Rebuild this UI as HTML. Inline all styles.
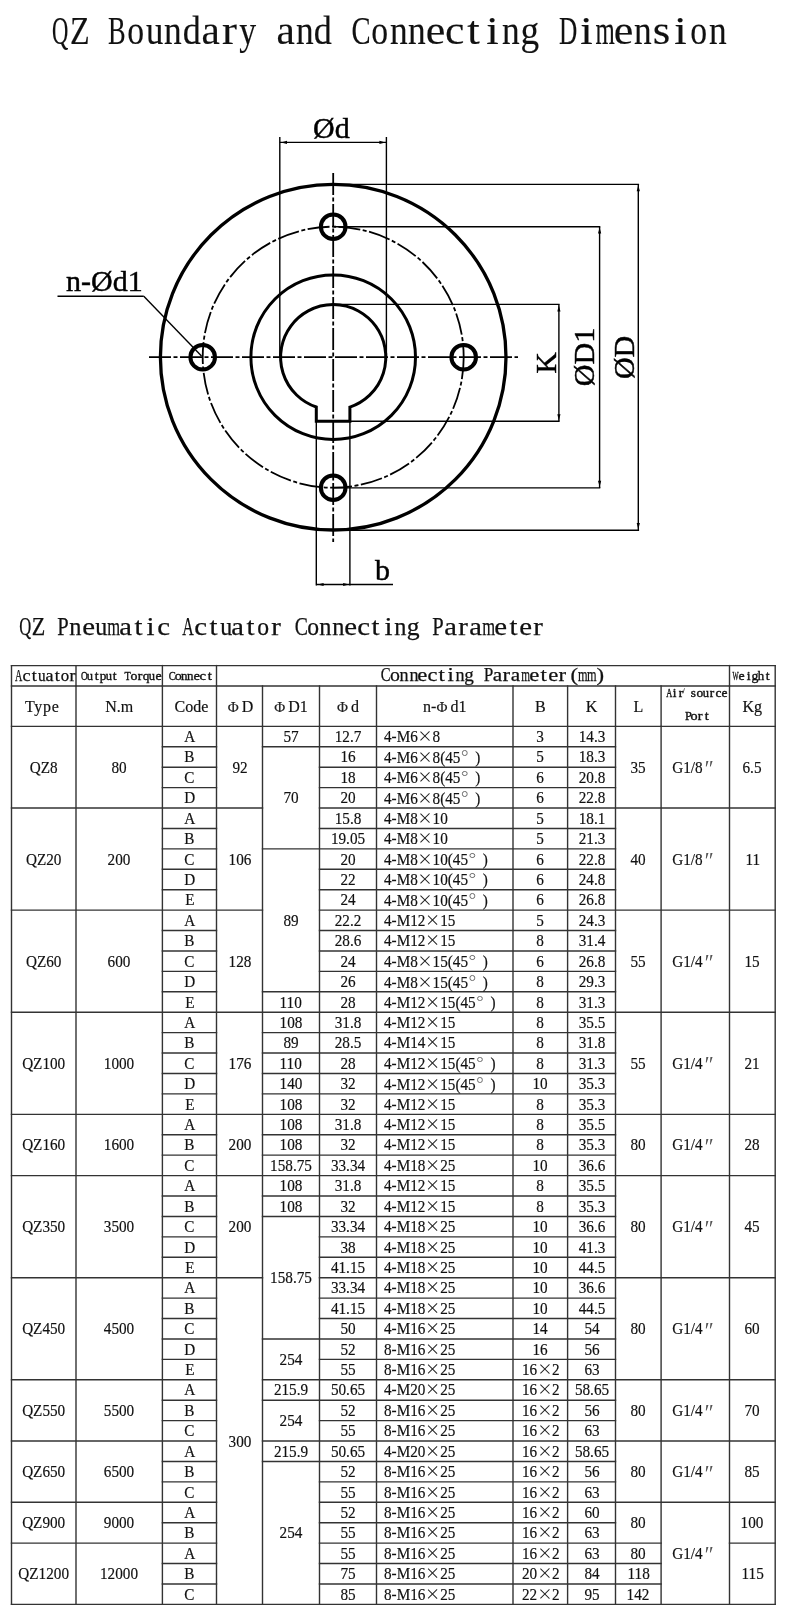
<!DOCTYPE html>
<html><head><meta charset="utf-8"><title>QZ Boundary and Connecting Dimension</title>
<style>
*{margin:0;padding:0;box-sizing:border-box}
html,body{width:800px;height:1607px;background:#fff;overflow:hidden}
body{position:relative;font-family:"Liberation Serif",serif;color:#000}
#pg{position:absolute;left:0;top:0;width:800px;height:1607px;will-change:transform}
.mc{position:absolute;line-height:1;white-space:pre;font-family:"Liberation Serif",serif;color:#111}
.b0{-webkit-text-stroke:.15px #111}
.b1{-webkit-text-stroke:.25px #111}
.b2{-webkit-text-stroke:.35px #111}
svg{position:absolute;left:0;top:0}
.c{position:absolute;display:flex;align-items:center;justify-content:center;font-size:16px;line-height:1;white-space:nowrap;color:#111;-webkit-text-stroke:.18px #111}
.c>span.s{display:inline-block;transform:scaleX(.95);position:relative;top:.5px}
.c.l{justify-content:flex-start;padding-left:7.5px}
.c.l>span.s{transform-origin:0 50%}
.x{display:inline-block;width:15.6px;height:9px;position:relative;vertical-align:1.5px}
.x::before,.x::after{content:"";position:absolute;left:50%;top:50%;width:12.6px;height:1px;background:#222;transform:translate(-50%,-50%) rotate(43deg)}
.x::after{transform:translate(-50%,-50%) rotate(-43deg)}
.dg{display:inline-block;width:15.6px;height:14px;position:relative;vertical-align:0}
.dg::before{content:"";position:absolute;left:1.6px;top:1.5px;width:3.5px;height:3.5px;border:.85px solid #666;border-radius:50%}
.in{display:inline-block;width:16px;height:0;line-height:0;font-size:23px;position:relative;top:3.6px;text-align:left;padding-left:.8px;font-style:italic;color:#555;-webkit-text-stroke:0}
.h{font-size:16px;padding-top:2.4px}
.phi{font-size:15px;margin-right:3px;color:#222}
</style></head><body><div id="pg">
<span class="mc b0" style="left:46.05px;top:11.09px;font-size:39.00px;transform-origin:14.55px 32.66px;transform:scale(0.580,1.000)">Q</span><span class="mc b0" style="left:67.59px;top:11.09px;font-size:39.00px;transform-origin:11.78px 32.66px;transform:scale(0.824,1.000)">Z</span><span class="mc b0" style="left:104.29px;top:11.09px;font-size:39.00px;transform-origin:12.62px 32.66px;transform:scale(0.678,1.000)">B</span><span class="mc b0" style="left:125.93px;top:11.09px;font-size:39.00px;transform-origin:9.75px 32.66px;transform:scale(0.863,1.000)">o</span><span class="mc b0" style="left:144.78px;top:11.09px;font-size:39.00px;transform-origin:9.67px 32.66px;transform:scale(0.891,1.000)">u</span><span class="mc b0" style="left:163.32px;top:11.09px;font-size:39.00px;transform-origin:9.90px 32.66px;transform:scale(0.906,1.000)">n</span><span class="mc b0" style="left:181.77px;top:11.09px;font-size:39.00px;transform-origin:10.22px 32.66px;transform:scale(0.927,1.000)">d</span><span class="mc b0" style="left:201.69px;top:11.09px;font-size:39.00px;transform-origin:9.07px 32.66px;transform:scale(1.060,1.000)">a</span><span class="mc b0" style="left:222.82px;top:11.09px;font-size:39.00px;transform-origin:6.71px 32.66px;transform:scale(1.150,1.000)">r</span><span class="mc b0" style="left:238.39px;top:11.09px;font-size:39.00px;transform-origin:9.91px 32.66px;transform:scale(0.865,1.000)">y</span><span class="mc b0" style="left:276.77px;top:11.09px;font-size:39.00px;transform-origin:9.07px 32.66px;transform:scale(1.060,1.000)">a</span><span class="mc b0" style="left:294.71px;top:11.09px;font-size:39.00px;transform-origin:9.90px 32.66px;transform:scale(0.906,1.000)">n</span><span class="mc b0" style="left:313.16px;top:11.09px;font-size:39.00px;transform-origin:10.22px 32.66px;transform:scale(0.927,1.000)">d</span><span class="mc b0" style="left:348.19px;top:11.09px;font-size:39.00px;transform-origin:12.73px 32.66px;transform:scale(0.734,1.000)">C</span><span class="mc b0" style="left:369.94px;top:11.09px;font-size:39.00px;transform-origin:9.75px 32.66px;transform:scale(0.863,1.000)">o</span><span class="mc b0" style="left:388.56px;top:11.09px;font-size:39.00px;transform-origin:9.90px 32.66px;transform:scale(0.906,1.000)">n</span><span class="mc b0" style="left:407.33px;top:11.09px;font-size:39.00px;transform-origin:9.90px 32.66px;transform:scale(0.906,1.000)">n</span><span class="mc b0" style="left:427.26px;top:11.09px;font-size:39.00px;transform-origin:8.74px 32.66px;transform:scale(1.131,1.000)">e</span><span class="mc b0" style="left:445.97px;top:11.09px;font-size:39.00px;transform-origin:8.80px 32.66px;transform:scale(1.117,1.000)">c</span><span class="mc b0" style="left:468.05px;top:11.09px;font-size:39.00px;transform-origin:5.49px 32.66px;transform:scale(1.150,1.000)">t</span><span class="mc b0" style="left:486.85px;top:11.09px;font-size:39.00px;transform-origin:5.46px 32.66px;transform:scale(1.150,1.000)">i</span><span class="mc b0" style="left:501.18px;top:11.09px;font-size:39.00px;transform-origin:9.90px 32.66px;transform:scale(0.906,1.000)">n</span><span class="mc b0" style="left:519.63px;top:11.09px;font-size:39.00px;transform-origin:10.22px 32.66px;transform:scale(0.956,1.000)">g</span><span class="mc b0" style="left:553.53px;top:11.09px;font-size:39.00px;transform-origin:13.86px 32.66px;transform:scale(0.648,1.000)">D</span><span class="mc b0" style="left:580.70px;top:11.09px;font-size:39.00px;transform-origin:5.46px 32.66px;transform:scale(1.150,1.000)">i</span><span class="mc b0" style="left:589.66px;top:11.09px;font-size:39.00px;transform-origin:15.27px 32.66px;transform:scale(0.636,1.000)">m</span><span class="mc b0" style="left:614.96px;top:11.09px;font-size:39.00px;transform-origin:8.74px 32.66px;transform:scale(1.131,1.000)">e</span><span class="mc b0" style="left:632.57px;top:11.09px;font-size:39.00px;transform-origin:9.90px 32.66px;transform:scale(0.906,1.000)">n</span><span class="mc b0" style="left:653.56px;top:11.09px;font-size:39.00px;transform-origin:7.68px 32.66px;transform:scale(1.150,1.000)">s</span><span class="mc b0" style="left:674.55px;top:11.09px;font-size:39.00px;transform-origin:5.46px 32.66px;transform:scale(1.150,1.000)">i</span><span class="mc b0" style="left:689.03px;top:11.09px;font-size:39.00px;transform-origin:9.75px 32.66px;transform:scale(0.863,1.000)">o</span><span class="mc b0" style="left:707.65px;top:11.09px;font-size:39.00px;transform-origin:9.90px 32.66px;transform:scale(0.906,1.000)">n</span>
<svg width="800" height="600" viewBox="0 0 800 600"><g stroke="#000" stroke-width="1.8" fill="none" stroke-dasharray="22 2.5 4 2.5"><line x1="149" y1="357.2" x2="518" y2="357.2"/><line x1="333.2" y1="173" x2="333.2" y2="542"/><circle cx="333.2" cy="357.2" r="130.5"/></g><g stroke="#000" fill="none"><circle cx="333.2" cy="357.2" r="172.8" stroke-width="3.3"/><circle cx="333.2" cy="357.2" r="82.3" stroke-width="3"/><path stroke-width="3" stroke-linejoin="miter" d="M316.3 421.2 L316.3 407.01 A52.6 52.6 0 1 1 349.9 407.08 L349.9 421.2 Z"/><circle cx="202.7" cy="357.2" r="12.3" stroke-width="4"/><circle cx="463.7" cy="357.2" r="12.3" stroke-width="4"/><circle cx="333.2" cy="226.7" r="12.3" stroke-width="4"/><circle cx="333.2" cy="487.7" r="12.3" stroke-width="4"/></g><g stroke="#000" stroke-width="1.4" fill="none"><line x1="279.8" y1="137" x2="279.8" y2="357.2"/><line x1="386.4" y1="137" x2="386.4" y2="357.2"/><line x1="279.8" y1="142.4" x2="386.4" y2="142.4"/><line x1="333.2" y1="184.4" x2="639.1" y2="184.4"/><line x1="349" y1="530.2" x2="639.1" y2="530.2"/><line x1="638.3" y1="184.4" x2="638.3" y2="530.2"/><line x1="333.2" y1="226.8" x2="600.3" y2="226.8"/><line x1="333.2" y1="487.9" x2="600.3" y2="487.9"/><line x1="599.6" y1="226.8" x2="599.6" y2="487.9"/><line x1="333.2" y1="304.4" x2="559.6" y2="304.4"/><line x1="349.9" y1="421.2" x2="559.6" y2="421.2"/><line x1="558.9" y1="304.4" x2="558.9" y2="421.2"/><line x1="316.3" y1="421.2" x2="316.3" y2="585.5"/><line x1="349.9" y1="421.2" x2="349.9" y2="585.5"/><line x1="316.3" y1="584.5" x2="393" y2="584.5"/><line x1="57.5" y1="296.3" x2="143.8" y2="296.3"/><line x1="143.8" y1="296.3" x2="201.5" y2="356"/></g><g fill="#000"><polygon points="281,142.4 287,140.8 287,144"/><polygon points="385.4,142.4 379.4,140.8 379.4,144"/><polygon points="638.3,185.3 636.7,191.3 639.9,191.3"/><polygon points="638.3,529.1 636.7,523.1 639.9,523.1"/><polygon points="599.6,227.6 598,233.6 601.2,233.6"/><polygon points="599.6,486.8 598,480.8 601.2,480.8"/><polygon points="558.9,305.5 557.3,311.5 560.5,311.5"/><polygon points="558.9,420.3 557.3,414.3 560.5,414.3"/><polygon points="317.6,584.5 323.6,582.9 323.6,586.1"/><polygon points="349.1,584.5 343.1,582.9 343.1,586.1"/></g><g font-family="Liberation Serif" font-size="30" fill="#000" stroke="#000" stroke-width="0.45"><text x="313" y="138.4">Ød</text><text x="66" y="290.5">n-Ød1</text><text x="375" y="579.5">b</text><text transform="translate(555.6 363) rotate(-90)" text-anchor="middle">K</text><text transform="translate(594.2 357) rotate(-90)" text-anchor="middle">ØD1</text><text transform="translate(633.8 357.4) rotate(-90)" text-anchor="middle">ØD</text></g></svg>
<span class="mc b1" style="left:16.47px;top:614.06px;font-size:25.00px;transform-origin:9.33px 20.94px;transform:scale(0.663,1.000)">Q</span><span class="mc b1" style="left:30.75px;top:614.06px;font-size:25.00px;transform-origin:7.55px 20.94px;transform:scale(0.885,1.000)">Z</span><span class="mc b1" style="left:56.49px;top:614.06px;font-size:25.00px;transform-origin:6.81px 20.94px;transform:scale(0.821,1.000)">P</span><span class="mc b1" style="left:69.45px;top:614.06px;font-size:25.00px;transform-origin:6.35px 20.94px;transform:scale(0.974,1.000)">n</span><span class="mc b1" style="left:82.70px;top:614.06px;font-size:25.00px;transform-origin:5.60px 20.94px;transform:scale(1.150,1.000)">e</span><span class="mc b1" style="left:94.60px;top:614.06px;font-size:25.00px;transform-origin:6.20px 20.94px;transform:scale(0.958,1.000)">u</span><span class="mc b1" style="left:103.51px;top:614.06px;font-size:25.00px;transform-origin:9.79px 20.94px;transform:scale(0.661,1.000)">m</span><span class="mc b1" style="left:119.98px;top:614.06px;font-size:25.00px;transform-origin:5.82px 20.94px;transform:scale(1.139,1.000)">a</span><span class="mc b1" style="left:134.78px;top:614.06px;font-size:25.00px;transform-origin:3.52px 20.94px;transform:scale(1.150,1.000)">t</span><span class="mc b1" style="left:147.30px;top:614.06px;font-size:25.00px;transform-origin:3.50px 20.94px;transform:scale(1.150,1.000)">i</span><span class="mc b1" style="left:157.66px;top:614.06px;font-size:25.00px;transform-origin:5.64px 20.94px;transform:scale(1.150,1.000)">c</span><span class="mc b1" style="left:179.24px;top:614.06px;font-size:25.00px;transform-origin:9.06px 20.94px;transform:scale(0.638,1.000)">A</span><span class="mc b1" style="left:195.16px;top:614.06px;font-size:25.00px;transform-origin:5.64px 20.94px;transform:scale(1.150,1.000)">c</span><span class="mc b1" style="left:209.78px;top:614.06px;font-size:25.00px;transform-origin:3.52px 20.94px;transform:scale(1.150,1.000)">t</span><span class="mc b1" style="left:219.60px;top:614.06px;font-size:25.00px;transform-origin:6.20px 20.94px;transform:scale(0.958,1.000)">u</span><span class="mc b1" style="left:232.48px;top:614.06px;font-size:25.00px;transform-origin:5.82px 20.94px;transform:scale(1.139,1.000)">a</span><span class="mc b1" style="left:247.28px;top:614.06px;font-size:25.00px;transform-origin:3.52px 20.94px;transform:scale(1.150,1.000)">t</span><span class="mc b1" style="left:257.05px;top:614.06px;font-size:25.00px;transform-origin:6.25px 20.94px;transform:scale(0.944,1.000)">o</span><span class="mc b1" style="left:271.50px;top:614.06px;font-size:25.00px;transform-origin:4.30px 20.94px;transform:scale(1.150,1.000)">r</span><span class="mc b1" style="left:292.64px;top:614.06px;font-size:25.00px;transform-origin:8.16px 20.94px;transform:scale(0.788,1.000)">C</span><span class="mc b1" style="left:307.05px;top:614.06px;font-size:25.00px;transform-origin:6.25px 20.94px;transform:scale(0.944,1.000)">o</span><span class="mc b1" style="left:319.45px;top:614.06px;font-size:25.00px;transform-origin:6.35px 20.94px;transform:scale(0.974,1.000)">n</span><span class="mc b1" style="left:331.95px;top:614.06px;font-size:25.00px;transform-origin:6.35px 20.94px;transform:scale(0.974,1.000)">n</span><span class="mc b1" style="left:345.20px;top:614.06px;font-size:25.00px;transform-origin:5.60px 20.94px;transform:scale(1.150,1.000)">e</span><span class="mc b1" style="left:357.66px;top:614.06px;font-size:25.00px;transform-origin:5.64px 20.94px;transform:scale(1.150,1.000)">c</span><span class="mc b1" style="left:372.28px;top:614.06px;font-size:25.00px;transform-origin:3.52px 20.94px;transform:scale(1.150,1.000)">t</span><span class="mc b1" style="left:384.80px;top:614.06px;font-size:25.00px;transform-origin:3.50px 20.94px;transform:scale(1.150,1.000)">i</span><span class="mc b1" style="left:394.45px;top:614.06px;font-size:25.00px;transform-origin:6.35px 20.94px;transform:scale(0.974,1.000)">n</span><span class="mc b1" style="left:406.75px;top:614.06px;font-size:25.00px;transform-origin:6.55px 20.94px;transform:scale(1.027,1.000)">g</span><span class="mc b1" style="left:431.49px;top:614.06px;font-size:25.00px;transform-origin:6.81px 20.94px;transform:scale(0.821,1.000)">P</span><span class="mc b1" style="left:444.98px;top:614.06px;font-size:25.00px;transform-origin:5.82px 20.94px;transform:scale(1.139,1.000)">a</span><span class="mc b1" style="left:459.00px;top:614.06px;font-size:25.00px;transform-origin:4.30px 20.94px;transform:scale(1.150,1.000)">r</span><span class="mc b1" style="left:469.98px;top:614.06px;font-size:25.00px;transform-origin:5.82px 20.94px;transform:scale(1.139,1.000)">a</span><span class="mc b1" style="left:478.51px;top:614.06px;font-size:25.00px;transform-origin:9.79px 20.94px;transform:scale(0.661,1.000)">m</span><span class="mc b1" style="left:495.20px;top:614.06px;font-size:25.00px;transform-origin:5.60px 20.94px;transform:scale(1.150,1.000)">e</span><span class="mc b1" style="left:509.78px;top:614.06px;font-size:25.00px;transform-origin:3.52px 20.94px;transform:scale(1.150,1.000)">t</span><span class="mc b1" style="left:520.20px;top:614.06px;font-size:25.00px;transform-origin:5.60px 20.94px;transform:scale(1.150,1.000)">e</span><span class="mc b1" style="left:534.00px;top:614.06px;font-size:25.00px;transform-origin:4.30px 20.94px;transform:scale(1.150,1.000)">r</span>
<svg width="800" height="1607" viewBox="0 0 800 1607"><g stroke="#333333" stroke-width="1.4" stroke-linecap="butt"><line x1="10.8" y1="665.6" x2="775.9" y2="665.6"/><line x1="10.8" y1="686" x2="775.9" y2="686"/><line x1="10.8" y1="726.35" x2="775.9" y2="726.35"/><line x1="10.8" y1="1604.41" x2="775.9" y2="1604.41"/><line x1="11.5" y1="664.9" x2="11.5" y2="1605.11"/><line x1="775.2" y1="664.9" x2="775.2" y2="1605.11"/><line x1="76" y1="664.9" x2="76" y2="686.7"/><line x1="162.4" y1="664.9" x2="162.4" y2="686.7"/><line x1="216.5" y1="664.9" x2="216.5" y2="686.7"/><line x1="729.5" y1="664.9" x2="729.5" y2="686.7"/><line x1="76" y1="685.3" x2="76" y2="727.05"/><line x1="162.4" y1="685.3" x2="162.4" y2="727.05"/><line x1="216.5" y1="685.3" x2="216.5" y2="727.05"/><line x1="262.5" y1="685.3" x2="262.5" y2="727.05"/><line x1="319.5" y1="685.3" x2="319.5" y2="727.05"/><line x1="376.5" y1="685.3" x2="376.5" y2="727.05"/><line x1="513" y1="685.3" x2="513" y2="727.05"/><line x1="567.6" y1="685.3" x2="567.6" y2="727.05"/><line x1="615.5" y1="685.3" x2="615.5" y2="727.05"/><line x1="661.1" y1="685.3" x2="661.1" y2="727.05"/><line x1="729.5" y1="685.3" x2="729.5" y2="727.05"/><line x1="161.7" y1="746.77" x2="217.2" y2="746.77"/><line x1="261.8" y1="746.77" x2="616.2" y2="746.77"/><line x1="161.7" y1="767.19" x2="217.2" y2="767.19"/><line x1="318.8" y1="767.19" x2="616.2" y2="767.19"/><line x1="161.7" y1="787.61" x2="217.2" y2="787.61"/><line x1="318.8" y1="787.61" x2="616.2" y2="787.61"/><line x1="10.8" y1="808.03" x2="263.2" y2="808.03"/><line x1="318.8" y1="808.03" x2="775.9" y2="808.03"/><line x1="161.7" y1="828.45" x2="217.2" y2="828.45"/><line x1="318.8" y1="828.45" x2="616.2" y2="828.45"/><line x1="161.7" y1="848.87" x2="217.2" y2="848.87"/><line x1="261.8" y1="848.87" x2="616.2" y2="848.87"/><line x1="161.7" y1="869.29" x2="217.2" y2="869.29"/><line x1="318.8" y1="869.29" x2="616.2" y2="869.29"/><line x1="161.7" y1="889.71" x2="217.2" y2="889.71"/><line x1="318.8" y1="889.71" x2="616.2" y2="889.71"/><line x1="10.8" y1="910.13" x2="263.2" y2="910.13"/><line x1="318.8" y1="910.13" x2="775.9" y2="910.13"/><line x1="161.7" y1="930.55" x2="217.2" y2="930.55"/><line x1="318.8" y1="930.55" x2="616.2" y2="930.55"/><line x1="161.7" y1="950.97" x2="217.2" y2="950.97"/><line x1="318.8" y1="950.97" x2="616.2" y2="950.97"/><line x1="161.7" y1="971.39" x2="217.2" y2="971.39"/><line x1="318.8" y1="971.39" x2="616.2" y2="971.39"/><line x1="161.7" y1="991.81" x2="217.2" y2="991.81"/><line x1="261.8" y1="991.81" x2="616.2" y2="991.81"/><line x1="10.8" y1="1012.23" x2="775.9" y2="1012.23"/><line x1="161.7" y1="1032.65" x2="217.2" y2="1032.65"/><line x1="261.8" y1="1032.65" x2="616.2" y2="1032.65"/><line x1="161.7" y1="1053.07" x2="217.2" y2="1053.07"/><line x1="261.8" y1="1053.07" x2="616.2" y2="1053.07"/><line x1="161.7" y1="1073.49" x2="217.2" y2="1073.49"/><line x1="261.8" y1="1073.49" x2="616.2" y2="1073.49"/><line x1="161.7" y1="1093.91" x2="217.2" y2="1093.91"/><line x1="261.8" y1="1093.91" x2="616.2" y2="1093.91"/><line x1="10.8" y1="1114.33" x2="775.9" y2="1114.33"/><line x1="161.7" y1="1134.75" x2="217.2" y2="1134.75"/><line x1="261.8" y1="1134.75" x2="616.2" y2="1134.75"/><line x1="161.7" y1="1155.17" x2="217.2" y2="1155.17"/><line x1="261.8" y1="1155.17" x2="616.2" y2="1155.17"/><line x1="10.8" y1="1175.59" x2="775.9" y2="1175.59"/><line x1="161.7" y1="1196.01" x2="217.2" y2="1196.01"/><line x1="261.8" y1="1196.01" x2="616.2" y2="1196.01"/><line x1="161.7" y1="1216.43" x2="217.2" y2="1216.43"/><line x1="261.8" y1="1216.43" x2="616.2" y2="1216.43"/><line x1="161.7" y1="1236.85" x2="217.2" y2="1236.85"/><line x1="318.8" y1="1236.85" x2="616.2" y2="1236.85"/><line x1="161.7" y1="1257.27" x2="217.2" y2="1257.27"/><line x1="318.8" y1="1257.27" x2="616.2" y2="1257.27"/><line x1="10.8" y1="1277.69" x2="263.2" y2="1277.69"/><line x1="318.8" y1="1277.69" x2="775.9" y2="1277.69"/><line x1="161.7" y1="1298.11" x2="217.2" y2="1298.11"/><line x1="318.8" y1="1298.11" x2="616.2" y2="1298.11"/><line x1="161.7" y1="1318.53" x2="217.2" y2="1318.53"/><line x1="318.8" y1="1318.53" x2="616.2" y2="1318.53"/><line x1="161.7" y1="1338.95" x2="217.2" y2="1338.95"/><line x1="261.8" y1="1338.95" x2="616.2" y2="1338.95"/><line x1="161.7" y1="1359.37" x2="217.2" y2="1359.37"/><line x1="318.8" y1="1359.37" x2="616.2" y2="1359.37"/><line x1="10.8" y1="1379.79" x2="217.2" y2="1379.79"/><line x1="261.8" y1="1379.79" x2="775.9" y2="1379.79"/><line x1="161.7" y1="1400.21" x2="217.2" y2="1400.21"/><line x1="261.8" y1="1400.21" x2="616.2" y2="1400.21"/><line x1="161.7" y1="1420.63" x2="217.2" y2="1420.63"/><line x1="318.8" y1="1420.63" x2="616.2" y2="1420.63"/><line x1="10.8" y1="1441.05" x2="217.2" y2="1441.05"/><line x1="261.8" y1="1441.05" x2="775.9" y2="1441.05"/><line x1="161.7" y1="1461.47" x2="217.2" y2="1461.47"/><line x1="261.8" y1="1461.47" x2="616.2" y2="1461.47"/><line x1="161.7" y1="1481.89" x2="217.2" y2="1481.89"/><line x1="318.8" y1="1481.89" x2="616.2" y2="1481.89"/><line x1="10.8" y1="1502.31" x2="217.2" y2="1502.31"/><line x1="318.8" y1="1502.31" x2="775.9" y2="1502.31"/><line x1="161.7" y1="1522.73" x2="217.2" y2="1522.73"/><line x1="318.8" y1="1522.73" x2="616.2" y2="1522.73"/><line x1="10.8" y1="1543.15" x2="217.2" y2="1543.15"/><line x1="318.8" y1="1543.15" x2="661.8" y2="1543.15"/><line x1="728.8" y1="1543.15" x2="775.9" y2="1543.15"/><line x1="161.7" y1="1563.57" x2="217.2" y2="1563.57"/><line x1="318.8" y1="1563.57" x2="661.8" y2="1563.57"/><line x1="161.7" y1="1583.99" x2="217.2" y2="1583.99"/><line x1="318.8" y1="1583.99" x2="661.8" y2="1583.99"/><line x1="76" y1="725.65" x2="76" y2="1605.11"/><line x1="162.4" y1="725.65" x2="162.4" y2="1605.11"/><line x1="216.5" y1="725.65" x2="216.5" y2="1605.11"/><line x1="262.5" y1="725.65" x2="262.5" y2="1605.11"/><line x1="319.5" y1="725.65" x2="319.5" y2="1605.11"/><line x1="376.5" y1="725.65" x2="376.5" y2="1605.11"/><line x1="513" y1="725.65" x2="513" y2="1605.11"/><line x1="567.6" y1="725.65" x2="567.6" y2="1605.11"/><line x1="615.5" y1="725.65" x2="615.5" y2="1605.11"/><line x1="661.1" y1="725.65" x2="661.1" y2="1605.11"/><line x1="729.5" y1="725.65" x2="729.5" y2="1605.11"/><line x1="684.6" y1="688.2" x2="682.8" y2="693.6" stroke="#666" stroke-width="0.9"/></g></svg>
<span class="mc b1" style="left:13.31px;top:667.85px;font-size:15.70px;transform-origin:5.69px 13.15px;transform:scale(0.645,1.000)">A</span><span class="mc b1" style="left:23.14px;top:667.85px;font-size:15.70px;transform-origin:3.54px 13.15px;transform:scale(1.150,1.000)">c</span><span class="mc b1" style="left:32.15px;top:667.85px;font-size:15.70px;transform-origin:2.21px 13.15px;transform:scale(1.150,1.000)">t</span><span class="mc b1" style="left:38.15px;top:667.85px;font-size:15.70px;transform-origin:3.89px 13.15px;transform:scale(0.968,1.000)">u</span><span class="mc b1" style="left:46.07px;top:667.85px;font-size:15.70px;transform-origin:3.65px 13.15px;transform:scale(1.150,1.000)">a</span><span class="mc b1" style="left:55.19px;top:667.85px;font-size:15.70px;transform-origin:2.21px 13.15px;transform:scale(1.150,1.000)">t</span><span class="mc b1" style="left:61.16px;top:667.85px;font-size:15.70px;transform-origin:3.92px 13.15px;transform:scale(1.073,1.000)">o</span><span class="mc b1" style="left:70.06px;top:667.85px;font-size:15.70px;transform-origin:2.70px 13.15px;transform:scale(1.150,1.000)">r</span><span class="mc b2" style="left:79.57px;top:669.65px;font-size:12.00px;transform-origin:4.33px 10.05px;transform:scale(0.768,1.000)">O</span><span class="mc b2" style="left:87.13px;top:669.65px;font-size:12.00px;transform-origin:2.98px 10.05px;transform:scale(1.047,1.000)">u</span><span class="mc b2" style="left:94.63px;top:669.65px;font-size:12.00px;transform-origin:1.69px 10.05px;transform:scale(1.150,1.000)">t</span><span class="mc b2" style="left:99.67px;top:669.65px;font-size:12.00px;transform-origin:2.86px 10.05px;transform:scale(1.105,1.000)">p</span><span class="mc b2" style="left:105.76px;top:669.65px;font-size:12.00px;transform-origin:2.98px 10.05px;transform:scale(1.047,1.000)">u</span><span class="mc b2" style="left:113.26px;top:669.65px;font-size:12.00px;transform-origin:1.69px 10.05px;transform:scale(1.150,1.000)">t</span><span class="mc b2" style="left:123.70px;top:669.65px;font-size:12.00px;transform-origin:3.67px 10.05px;transform:scale(0.853,1.000)">T</span><span class="mc b2" style="left:130.58px;top:669.65px;font-size:12.00px;transform-origin:3.00px 10.05px;transform:scale(1.150,1.000)">o</span><span class="mc b2" style="left:137.72px;top:669.65px;font-size:12.00px;transform-origin:2.07px 10.05px;transform:scale(1.150,1.000)">r</span><span class="mc b2" style="left:142.89px;top:669.65px;font-size:12.00px;transform-origin:3.11px 10.05px;transform:scale(1.103,1.000)">q</span><span class="mc b2" style="left:149.23px;top:669.65px;font-size:12.00px;transform-origin:2.98px 10.05px;transform:scale(1.047,1.000)">u</span><span class="mc b2" style="left:155.73px;top:669.65px;font-size:12.00px;transform-origin:2.69px 10.05px;transform:scale(1.150,1.000)">e</span><span class="mc b2" style="left:167.65px;top:669.56px;font-size:12.70px;transform-origin:4.15px 10.64px;transform:scale(0.826,1.000)">C</span><span class="mc b2" style="left:174.93px;top:669.56px;font-size:12.70px;transform-origin:3.17px 10.64px;transform:scale(1.112,1.000)">o</span><span class="mc b2" style="left:181.18px;top:669.56px;font-size:12.70px;transform-origin:3.22px 10.64px;transform:scale(1.020,1.000)">n</span><span class="mc b2" style="left:187.48px;top:669.56px;font-size:12.70px;transform-origin:3.22px 10.64px;transform:scale(1.020,1.000)">n</span><span class="mc b2" style="left:194.15px;top:669.56px;font-size:12.70px;transform-origin:2.85px 10.64px;transform:scale(1.150,1.000)">e</span><span class="mc b2" style="left:200.44px;top:669.56px;font-size:12.70px;transform-origin:2.86px 10.64px;transform:scale(1.150,1.000)">c</span><span class="mc b2" style="left:207.81px;top:669.56px;font-size:12.70px;transform-origin:1.79px 10.64px;transform:scale(1.150,1.000)">t</span><span class="mc b1" style="left:379.14px;top:665.42px;font-size:19.80px;transform-origin:6.46px 16.58px;transform:scale(0.742,1.000)">C</span><span class="mc b1" style="left:389.97px;top:665.42px;font-size:19.80px;transform-origin:4.95px 16.58px;transform:scale(1.000,1.000)">o</span><span class="mc b1" style="left:399.21px;top:665.42px;font-size:19.80px;transform-origin:5.03px 16.58px;transform:scale(0.917,1.000)">n</span><span class="mc b1" style="left:408.53px;top:665.42px;font-size:19.80px;transform-origin:5.03px 16.58px;transform:scale(0.917,1.000)">n</span><span class="mc b1" style="left:418.44px;top:665.42px;font-size:19.80px;transform-origin:4.44px 16.58px;transform:scale(1.145,1.000)">e</span><span class="mc b1" style="left:427.73px;top:665.42px;font-size:19.80px;transform-origin:4.47px 16.58px;transform:scale(1.130,1.000)">c</span><span class="mc b1" style="left:438.73px;top:665.42px;font-size:19.80px;transform-origin:2.79px 16.58px;transform:scale(1.150,1.000)">t</span><span class="mc b1" style="left:448.07px;top:665.42px;font-size:19.80px;transform-origin:2.77px 16.58px;transform:scale(1.150,1.000)">i</span><span class="mc b1" style="left:455.13px;top:665.42px;font-size:19.80px;transform-origin:5.03px 16.58px;transform:scale(0.917,1.000)">n</span><span class="mc b1" style="left:464.29px;top:665.42px;font-size:19.80px;transform-origin:5.19px 16.58px;transform:scale(0.967,1.000)">g</span><span class="mc b1" style="left:482.73px;top:665.42px;font-size:19.80px;transform-origin:5.39px 16.58px;transform:scale(0.869,1.000)">P</span><span class="mc b1" style="left:492.83px;top:665.42px;font-size:19.80px;transform-origin:4.61px 16.58px;transform:scale(1.072,1.000)">a</span><span class="mc b1" style="left:503.35px;top:665.42px;font-size:19.80px;transform-origin:3.41px 16.58px;transform:scale(1.150,1.000)">r</span><span class="mc b1" style="left:511.47px;top:665.42px;font-size:19.80px;transform-origin:4.61px 16.58px;transform:scale(1.072,1.000)">a</span><span class="mc b1" style="left:517.65px;top:665.42px;font-size:19.80px;transform-origin:7.75px 16.58px;transform:scale(0.572,1.000)">m</span><span class="mc b1" style="left:530.28px;top:665.42px;font-size:19.80px;transform-origin:4.44px 16.58px;transform:scale(1.145,1.000)">e</span><span class="mc b1" style="left:541.25px;top:665.42px;font-size:19.80px;transform-origin:2.79px 16.58px;transform:scale(1.150,1.000)">t</span><span class="mc b1" style="left:548.92px;top:665.42px;font-size:19.80px;transform-origin:4.44px 16.58px;transform:scale(1.145,1.000)">e</span><span class="mc b1" style="left:559.27px;top:665.42px;font-size:19.80px;transform-origin:3.41px 16.58px;transform:scale(1.150,1.000)">r</span><span class="mc b1" style="left:571.09px;top:665.42px;font-size:19.80px;transform-origin:3.41px 16.58px;transform:scale(1.150,1.000)">(</span><span class="mc b1" style="left:574.85px;top:665.42px;font-size:19.80px;transform-origin:7.75px 16.58px;transform:scale(0.621,1.000)">m</span><span class="mc b1" style="left:584.35px;top:665.42px;font-size:19.80px;transform-origin:7.75px 16.58px;transform:scale(0.621,1.000)">m</span><span class="mc b1" style="left:596.82px;top:665.42px;font-size:19.80px;transform-origin:3.18px 16.58px;transform:scale(1.150,1.000)">)</span><span class="mc b2" style="left:729.74px;top:669.55px;font-size:12.00px;transform-origin:5.66px 10.05px;transform:scale(0.542,1.000)">W</span><span class="mc b2" style="left:739.15px;top:669.55px;font-size:12.00px;transform-origin:2.69px 10.05px;transform:scale(1.150,1.000)">e</span><span class="mc b2" style="left:746.60px;top:669.55px;font-size:12.00px;transform-origin:1.68px 10.05px;transform:scale(1.150,1.000)">i</span><span class="mc b2" style="left:751.58px;top:669.55px;font-size:12.00px;transform-origin:3.14px 10.05px;transform:scale(1.150,1.000)">g</span><span class="mc b2" style="left:758.18px;top:669.55px;font-size:12.00px;transform-origin:2.98px 10.05px;transform:scale(1.069,1.000)">h</span><span class="mc b2" style="left:765.91px;top:669.55px;font-size:12.00px;transform-origin:1.69px 10.05px;transform:scale(1.150,1.000)">t</span><span class="mc b2" style="left:664.70px;top:688.39px;font-size:11.60px;transform-origin:4.20px 9.71px;transform:scale(0.721,1.000)">A</span><span class="mc b2" style="left:673.49px;top:688.39px;font-size:11.60px;transform-origin:1.62px 9.71px;transform:scale(1.150,1.000)">i</span><span class="mc b2" style="left:679.32px;top:688.39px;font-size:11.60px;transform-origin:2.00px 9.71px;transform:scale(1.150,1.000)">r</span><span class="mc b2" style="left:691.45px;top:688.39px;font-size:11.60px;transform-origin:2.29px 9.71px;transform:scale(1.150,1.000)">s</span><span class="mc b2" style="left:697.05px;top:688.39px;font-size:11.60px;transform-origin:2.90px 9.71px;transform:scale(1.150,1.000)">o</span><span class="mc b2" style="left:703.28px;top:688.39px;font-size:11.60px;transform-origin:2.88px 9.71px;transform:scale(1.083,1.000)">u</span><span class="mc b2" style="left:710.37px;top:688.39px;font-size:11.60px;transform-origin:2.00px 9.71px;transform:scale(1.150,1.000)">r</span><span class="mc b2" style="left:715.96px;top:688.39px;font-size:11.60px;transform-origin:2.62px 9.71px;transform:scale(1.150,1.000)">c</span><span class="mc b2" style="left:722.19px;top:688.39px;font-size:11.60px;transform-origin:2.60px 9.71px;transform:scale(1.150,1.000)">e</span><span class="mc b2" style="left:684.52px;top:709.72px;font-size:12.40px;transform-origin:3.38px 10.38px;transform:scale(0.990,1.000)">P</span><span class="mc b2" style="left:691.10px;top:709.72px;font-size:12.40px;transform-origin:3.10px 10.38px;transform:scale(1.139,1.000)">o</span><span class="mc b2" style="left:698.37px;top:709.72px;font-size:12.40px;transform-origin:2.13px 10.38px;transform:scale(1.150,1.000)">r</span><span class="mc b2" style="left:705.05px;top:709.72px;font-size:12.40px;transform-origin:1.75px 10.38px;transform:scale(1.150,1.000)">t</span><div class="c h" style="left:11.5px;top:686px;width:64.5px;height:40.35px"><span style="position:relative;left:-1.5px;letter-spacing:.7px">Type</span></div><div class="c h" style="left:76px;top:686px;width:86.4px;height:40.35px">N.m</div><div class="c h" style="left:162.4px;top:686px;width:54.1px;height:40.35px"><span style="position:relative;left:2px">Code</span></div><div class="c h" style="left:216.5px;top:686px;width:46px;height:40.35px"><span style="position:relative;left:1px"><span class="phi">Φ</span>D</span></div><div class="c h" style="left:262.5px;top:686px;width:57px;height:40.35px"><span class="phi">Φ</span>D1</div><div class="c h" style="left:319.5px;top:686px;width:57px;height:40.35px"><span class="phi">Φ</span>d</div><div class="c h" style="left:376.5px;top:686px;width:136.5px;height:40.35px">n-<span class="phi">Φ</span>d1</div><div class="c h" style="left:513px;top:686px;width:54.6px;height:40.35px">B</div><div class="c h" style="left:567.6px;top:686px;width:47.9px;height:40.35px">K</div><div class="c h" style="left:615.5px;top:686px;width:45.6px;height:40.35px">L</div><div class="c h" style="left:729.5px;top:686px;width:45.7px;height:40.35px">Kg</div><div class="c" style="left:11.5px;top:726.35px;width:64.5px;height:81.68px"><span class="s">QZ8</span></div><div class="c" style="left:76px;top:726.35px;width:86.4px;height:81.68px"><span class="s">80</span></div><div class="c" style="left:162.4px;top:726.35px;width:54.1px;height:20.42px"><span class="s">A</span></div><div class="c" style="left:162.4px;top:746.77px;width:54.1px;height:20.42px"><span class="s">B</span></div><div class="c" style="left:162.4px;top:767.19px;width:54.1px;height:20.42px"><span class="s">C</span></div><div class="c" style="left:162.4px;top:787.61px;width:54.1px;height:20.42px"><span class="s">D</span></div><div class="c" style="left:11.5px;top:808.03px;width:64.5px;height:102.1px"><span class="s">QZ20</span></div><div class="c" style="left:76px;top:808.03px;width:86.4px;height:102.1px"><span class="s">200</span></div><div class="c" style="left:162.4px;top:808.03px;width:54.1px;height:20.42px"><span class="s">A</span></div><div class="c" style="left:162.4px;top:828.45px;width:54.1px;height:20.42px"><span class="s">B</span></div><div class="c" style="left:162.4px;top:848.87px;width:54.1px;height:20.42px"><span class="s">C</span></div><div class="c" style="left:162.4px;top:869.29px;width:54.1px;height:20.42px"><span class="s">D</span></div><div class="c" style="left:162.4px;top:889.71px;width:54.1px;height:20.42px"><span class="s">E</span></div><div class="c" style="left:11.5px;top:910.13px;width:64.5px;height:102.1px"><span class="s">QZ60</span></div><div class="c" style="left:76px;top:910.13px;width:86.4px;height:102.1px"><span class="s">600</span></div><div class="c" style="left:162.4px;top:910.13px;width:54.1px;height:20.42px"><span class="s">A</span></div><div class="c" style="left:162.4px;top:930.55px;width:54.1px;height:20.42px"><span class="s">B</span></div><div class="c" style="left:162.4px;top:950.97px;width:54.1px;height:20.42px"><span class="s">C</span></div><div class="c" style="left:162.4px;top:971.39px;width:54.1px;height:20.42px"><span class="s">D</span></div><div class="c" style="left:162.4px;top:991.81px;width:54.1px;height:20.42px"><span class="s">E</span></div><div class="c" style="left:11.5px;top:1012.23px;width:64.5px;height:102.1px"><span class="s">QZ100</span></div><div class="c" style="left:76px;top:1012.23px;width:86.4px;height:102.1px"><span class="s">1000</span></div><div class="c" style="left:162.4px;top:1012.23px;width:54.1px;height:20.42px"><span class="s">A</span></div><div class="c" style="left:162.4px;top:1032.65px;width:54.1px;height:20.42px"><span class="s">B</span></div><div class="c" style="left:162.4px;top:1053.07px;width:54.1px;height:20.42px"><span class="s">C</span></div><div class="c" style="left:162.4px;top:1073.49px;width:54.1px;height:20.42px"><span class="s">D</span></div><div class="c" style="left:162.4px;top:1093.91px;width:54.1px;height:20.42px"><span class="s">E</span></div><div class="c" style="left:11.5px;top:1114.33px;width:64.5px;height:61.26px"><span class="s">QZ160</span></div><div class="c" style="left:76px;top:1114.33px;width:86.4px;height:61.26px"><span class="s">1600</span></div><div class="c" style="left:162.4px;top:1114.33px;width:54.1px;height:20.42px"><span class="s">A</span></div><div class="c" style="left:162.4px;top:1134.75px;width:54.1px;height:20.42px"><span class="s">B</span></div><div class="c" style="left:162.4px;top:1155.17px;width:54.1px;height:20.42px"><span class="s">C</span></div><div class="c" style="left:11.5px;top:1175.59px;width:64.5px;height:102.1px"><span class="s">QZ350</span></div><div class="c" style="left:76px;top:1175.59px;width:86.4px;height:102.1px"><span class="s">3500</span></div><div class="c" style="left:162.4px;top:1175.59px;width:54.1px;height:20.42px"><span class="s">A</span></div><div class="c" style="left:162.4px;top:1196.01px;width:54.1px;height:20.42px"><span class="s">B</span></div><div class="c" style="left:162.4px;top:1216.43px;width:54.1px;height:20.42px"><span class="s">C</span></div><div class="c" style="left:162.4px;top:1236.85px;width:54.1px;height:20.42px"><span class="s">D</span></div><div class="c" style="left:162.4px;top:1257.27px;width:54.1px;height:20.42px"><span class="s">E</span></div><div class="c" style="left:11.5px;top:1277.69px;width:64.5px;height:102.1px"><span class="s">QZ450</span></div><div class="c" style="left:76px;top:1277.69px;width:86.4px;height:102.1px"><span class="s">4500</span></div><div class="c" style="left:162.4px;top:1277.69px;width:54.1px;height:20.42px"><span class="s">A</span></div><div class="c" style="left:162.4px;top:1298.11px;width:54.1px;height:20.42px"><span class="s">B</span></div><div class="c" style="left:162.4px;top:1318.53px;width:54.1px;height:20.42px"><span class="s">C</span></div><div class="c" style="left:162.4px;top:1338.95px;width:54.1px;height:20.42px"><span class="s">D</span></div><div class="c" style="left:162.4px;top:1359.37px;width:54.1px;height:20.42px"><span class="s">E</span></div><div class="c" style="left:11.5px;top:1379.79px;width:64.5px;height:61.26px"><span class="s">QZ550</span></div><div class="c" style="left:76px;top:1379.79px;width:86.4px;height:61.26px"><span class="s">5500</span></div><div class="c" style="left:162.4px;top:1379.79px;width:54.1px;height:20.42px"><span class="s">A</span></div><div class="c" style="left:162.4px;top:1400.21px;width:54.1px;height:20.42px"><span class="s">B</span></div><div class="c" style="left:162.4px;top:1420.63px;width:54.1px;height:20.42px"><span class="s">C</span></div><div class="c" style="left:11.5px;top:1441.05px;width:64.5px;height:61.26px"><span class="s">QZ650</span></div><div class="c" style="left:76px;top:1441.05px;width:86.4px;height:61.26px"><span class="s">6500</span></div><div class="c" style="left:162.4px;top:1441.05px;width:54.1px;height:20.42px"><span class="s">A</span></div><div class="c" style="left:162.4px;top:1461.47px;width:54.1px;height:20.42px"><span class="s">B</span></div><div class="c" style="left:162.4px;top:1481.89px;width:54.1px;height:20.42px"><span class="s">C</span></div><div class="c" style="left:11.5px;top:1502.31px;width:64.5px;height:40.84px"><span class="s">QZ900</span></div><div class="c" style="left:76px;top:1502.31px;width:86.4px;height:40.84px"><span class="s">9000</span></div><div class="c" style="left:162.4px;top:1502.31px;width:54.1px;height:20.42px"><span class="s">A</span></div><div class="c" style="left:162.4px;top:1522.73px;width:54.1px;height:20.42px"><span class="s">B</span></div><div class="c" style="left:11.5px;top:1543.15px;width:64.5px;height:61.26px"><span class="s">QZ1200</span></div><div class="c" style="left:76px;top:1543.15px;width:86.4px;height:61.26px"><span class="s">12000</span></div><div class="c" style="left:162.4px;top:1543.15px;width:54.1px;height:20.42px"><span class="s">A</span></div><div class="c" style="left:162.4px;top:1563.57px;width:54.1px;height:20.42px"><span class="s">B</span></div><div class="c" style="left:162.4px;top:1583.99px;width:54.1px;height:20.42px"><span class="s">C</span></div><div class="c" style="left:216.5px;top:726.35px;width:46px;height:81.68px"><span class="s">92</span></div><div class="c" style="left:216.5px;top:808.03px;width:46px;height:102.1px"><span class="s">106</span></div><div class="c" style="left:216.5px;top:910.13px;width:46px;height:102.1px"><span class="s">128</span></div><div class="c" style="left:216.5px;top:1012.23px;width:46px;height:102.1px"><span class="s">176</span></div><div class="c" style="left:216.5px;top:1114.33px;width:46px;height:61.26px"><span class="s">200</span></div><div class="c" style="left:216.5px;top:1175.59px;width:46px;height:102.1px"><span class="s">200</span></div><div class="c" style="left:216.5px;top:1277.69px;width:46px;height:326.72px"><span class="s">300</span></div><div class="c" style="left:262.5px;top:726.35px;width:57px;height:20.42px"><span class="s">57</span></div><div class="c" style="left:262.5px;top:746.77px;width:57px;height:102.1px"><span class="s">70</span></div><div class="c" style="left:262.5px;top:848.87px;width:57px;height:142.94px"><span class="s">89</span></div><div class="c" style="left:262.5px;top:991.81px;width:57px;height:20.42px"><span class="s">110</span></div><div class="c" style="left:262.5px;top:1012.23px;width:57px;height:20.42px"><span class="s">108</span></div><div class="c" style="left:262.5px;top:1032.65px;width:57px;height:20.42px"><span class="s">89</span></div><div class="c" style="left:262.5px;top:1053.07px;width:57px;height:20.42px"><span class="s">110</span></div><div class="c" style="left:262.5px;top:1073.49px;width:57px;height:20.42px"><span class="s">140</span></div><div class="c" style="left:262.5px;top:1093.91px;width:57px;height:20.42px"><span class="s">108</span></div><div class="c" style="left:262.5px;top:1114.33px;width:57px;height:20.42px"><span class="s">108</span></div><div class="c" style="left:262.5px;top:1134.75px;width:57px;height:20.42px"><span class="s">108</span></div><div class="c" style="left:262.5px;top:1155.17px;width:57px;height:20.42px"><span class="s">158.75</span></div><div class="c" style="left:262.5px;top:1175.59px;width:57px;height:20.42px"><span class="s">108</span></div><div class="c" style="left:262.5px;top:1196.01px;width:57px;height:20.42px"><span class="s">108</span></div><div class="c" style="left:262.5px;top:1216.43px;width:57px;height:122.52px"><span class="s">158.75</span></div><div class="c" style="left:262.5px;top:1338.95px;width:57px;height:40.84px"><span class="s">254</span></div><div class="c" style="left:262.5px;top:1379.79px;width:57px;height:20.42px"><span class="s">215.9</span></div><div class="c" style="left:262.5px;top:1400.21px;width:57px;height:40.84px"><span class="s">254</span></div><div class="c" style="left:262.5px;top:1441.05px;width:57px;height:20.42px"><span class="s">215.9</span></div><div class="c" style="left:262.5px;top:1461.47px;width:57px;height:142.94px"><span class="s">254</span></div><div class="c" style="left:319.5px;top:726.35px;width:57px;height:20.42px"><span class="s">12.7</span></div><div class="c l" style="left:376.5px;top:726.35px;width:136.5px;height:20.42px"><span class="s">4-M6<span class="x"></span>8</span></div><div class="c" style="left:513px;top:726.35px;width:54.6px;height:20.42px"><span class="s">3</span></div><div class="c" style="left:567.6px;top:726.35px;width:47.9px;height:20.42px"><span class="s">14.3</span></div><div class="c" style="left:319.5px;top:746.77px;width:57px;height:20.42px"><span class="s">16</span></div><div class="c l" style="left:376.5px;top:746.77px;width:136.5px;height:20.42px"><span class="s">4-M6<span class="x"></span>8(45<span class="dg"></span>)</span></div><div class="c" style="left:513px;top:746.77px;width:54.6px;height:20.42px"><span class="s">5</span></div><div class="c" style="left:567.6px;top:746.77px;width:47.9px;height:20.42px"><span class="s">18.3</span></div><div class="c" style="left:319.5px;top:767.19px;width:57px;height:20.42px"><span class="s">18</span></div><div class="c l" style="left:376.5px;top:767.19px;width:136.5px;height:20.42px"><span class="s">4-M6<span class="x"></span>8(45<span class="dg"></span>)</span></div><div class="c" style="left:513px;top:767.19px;width:54.6px;height:20.42px"><span class="s">6</span></div><div class="c" style="left:567.6px;top:767.19px;width:47.9px;height:20.42px"><span class="s">20.8</span></div><div class="c" style="left:319.5px;top:787.61px;width:57px;height:20.42px"><span class="s">20</span></div><div class="c l" style="left:376.5px;top:787.61px;width:136.5px;height:20.42px"><span class="s">4-M6<span class="x"></span>8(45<span class="dg"></span>)</span></div><div class="c" style="left:513px;top:787.61px;width:54.6px;height:20.42px"><span class="s">6</span></div><div class="c" style="left:567.6px;top:787.61px;width:47.9px;height:20.42px"><span class="s">22.8</span></div><div class="c" style="left:319.5px;top:808.03px;width:57px;height:20.42px"><span class="s">15.8</span></div><div class="c l" style="left:376.5px;top:808.03px;width:136.5px;height:20.42px"><span class="s">4-M8<span class="x"></span>10</span></div><div class="c" style="left:513px;top:808.03px;width:54.6px;height:20.42px"><span class="s">5</span></div><div class="c" style="left:567.6px;top:808.03px;width:47.9px;height:20.42px"><span class="s">18.1</span></div><div class="c" style="left:319.5px;top:828.45px;width:57px;height:20.42px"><span class="s">19.05</span></div><div class="c l" style="left:376.5px;top:828.45px;width:136.5px;height:20.42px"><span class="s">4-M8<span class="x"></span>10</span></div><div class="c" style="left:513px;top:828.45px;width:54.6px;height:20.42px"><span class="s">5</span></div><div class="c" style="left:567.6px;top:828.45px;width:47.9px;height:20.42px"><span class="s">21.3</span></div><div class="c" style="left:319.5px;top:848.87px;width:57px;height:20.42px"><span class="s">20</span></div><div class="c l" style="left:376.5px;top:848.87px;width:136.5px;height:20.42px"><span class="s">4-M8<span class="x"></span>10(45<span class="dg"></span>)</span></div><div class="c" style="left:513px;top:848.87px;width:54.6px;height:20.42px"><span class="s">6</span></div><div class="c" style="left:567.6px;top:848.87px;width:47.9px;height:20.42px"><span class="s">22.8</span></div><div class="c" style="left:319.5px;top:869.29px;width:57px;height:20.42px"><span class="s">22</span></div><div class="c l" style="left:376.5px;top:869.29px;width:136.5px;height:20.42px"><span class="s">4-M8<span class="x"></span>10(45<span class="dg"></span>)</span></div><div class="c" style="left:513px;top:869.29px;width:54.6px;height:20.42px"><span class="s">6</span></div><div class="c" style="left:567.6px;top:869.29px;width:47.9px;height:20.42px"><span class="s">24.8</span></div><div class="c" style="left:319.5px;top:889.71px;width:57px;height:20.42px"><span class="s">24</span></div><div class="c l" style="left:376.5px;top:889.71px;width:136.5px;height:20.42px"><span class="s">4-M8<span class="x"></span>10(45<span class="dg"></span>)</span></div><div class="c" style="left:513px;top:889.71px;width:54.6px;height:20.42px"><span class="s">6</span></div><div class="c" style="left:567.6px;top:889.71px;width:47.9px;height:20.42px"><span class="s">26.8</span></div><div class="c" style="left:319.5px;top:910.13px;width:57px;height:20.42px"><span class="s">22.2</span></div><div class="c l" style="left:376.5px;top:910.13px;width:136.5px;height:20.42px"><span class="s">4-M12<span class="x"></span>15</span></div><div class="c" style="left:513px;top:910.13px;width:54.6px;height:20.42px"><span class="s">5</span></div><div class="c" style="left:567.6px;top:910.13px;width:47.9px;height:20.42px"><span class="s">24.3</span></div><div class="c" style="left:319.5px;top:930.55px;width:57px;height:20.42px"><span class="s">28.6</span></div><div class="c l" style="left:376.5px;top:930.55px;width:136.5px;height:20.42px"><span class="s">4-M12<span class="x"></span>15</span></div><div class="c" style="left:513px;top:930.55px;width:54.6px;height:20.42px"><span class="s">8</span></div><div class="c" style="left:567.6px;top:930.55px;width:47.9px;height:20.42px"><span class="s">31.4</span></div><div class="c" style="left:319.5px;top:950.97px;width:57px;height:20.42px"><span class="s">24</span></div><div class="c l" style="left:376.5px;top:950.97px;width:136.5px;height:20.42px"><span class="s">4-M8<span class="x"></span>15(45<span class="dg"></span>)</span></div><div class="c" style="left:513px;top:950.97px;width:54.6px;height:20.42px"><span class="s">6</span></div><div class="c" style="left:567.6px;top:950.97px;width:47.9px;height:20.42px"><span class="s">26.8</span></div><div class="c" style="left:319.5px;top:971.39px;width:57px;height:20.42px"><span class="s">26</span></div><div class="c l" style="left:376.5px;top:971.39px;width:136.5px;height:20.42px"><span class="s">4-M8<span class="x"></span>15(45<span class="dg"></span>)</span></div><div class="c" style="left:513px;top:971.39px;width:54.6px;height:20.42px"><span class="s">8</span></div><div class="c" style="left:567.6px;top:971.39px;width:47.9px;height:20.42px"><span class="s">29.3</span></div><div class="c" style="left:319.5px;top:991.81px;width:57px;height:20.42px"><span class="s">28</span></div><div class="c l" style="left:376.5px;top:991.81px;width:136.5px;height:20.42px"><span class="s">4-M12<span class="x"></span>15(45<span class="dg"></span>)</span></div><div class="c" style="left:513px;top:991.81px;width:54.6px;height:20.42px"><span class="s">8</span></div><div class="c" style="left:567.6px;top:991.81px;width:47.9px;height:20.42px"><span class="s">31.3</span></div><div class="c" style="left:319.5px;top:1012.23px;width:57px;height:20.42px"><span class="s">31.8</span></div><div class="c l" style="left:376.5px;top:1012.23px;width:136.5px;height:20.42px"><span class="s">4-M12<span class="x"></span>15</span></div><div class="c" style="left:513px;top:1012.23px;width:54.6px;height:20.42px"><span class="s">8</span></div><div class="c" style="left:567.6px;top:1012.23px;width:47.9px;height:20.42px"><span class="s">35.5</span></div><div class="c" style="left:319.5px;top:1032.65px;width:57px;height:20.42px"><span class="s">28.5</span></div><div class="c l" style="left:376.5px;top:1032.65px;width:136.5px;height:20.42px"><span class="s">4-M14<span class="x"></span>15</span></div><div class="c" style="left:513px;top:1032.65px;width:54.6px;height:20.42px"><span class="s">8</span></div><div class="c" style="left:567.6px;top:1032.65px;width:47.9px;height:20.42px"><span class="s">31.8</span></div><div class="c" style="left:319.5px;top:1053.07px;width:57px;height:20.42px"><span class="s">28</span></div><div class="c l" style="left:376.5px;top:1053.07px;width:136.5px;height:20.42px"><span class="s">4-M12<span class="x"></span>15(45<span class="dg"></span>)</span></div><div class="c" style="left:513px;top:1053.07px;width:54.6px;height:20.42px"><span class="s">8</span></div><div class="c" style="left:567.6px;top:1053.07px;width:47.9px;height:20.42px"><span class="s">31.3</span></div><div class="c" style="left:319.5px;top:1073.49px;width:57px;height:20.42px"><span class="s">32</span></div><div class="c l" style="left:376.5px;top:1073.49px;width:136.5px;height:20.42px"><span class="s">4-M12<span class="x"></span>15(45<span class="dg"></span>)</span></div><div class="c" style="left:513px;top:1073.49px;width:54.6px;height:20.42px"><span class="s">10</span></div><div class="c" style="left:567.6px;top:1073.49px;width:47.9px;height:20.42px"><span class="s">35.3</span></div><div class="c" style="left:319.5px;top:1093.91px;width:57px;height:20.42px"><span class="s">32</span></div><div class="c l" style="left:376.5px;top:1093.91px;width:136.5px;height:20.42px"><span class="s">4-M12<span class="x"></span>15</span></div><div class="c" style="left:513px;top:1093.91px;width:54.6px;height:20.42px"><span class="s">8</span></div><div class="c" style="left:567.6px;top:1093.91px;width:47.9px;height:20.42px"><span class="s">35.3</span></div><div class="c" style="left:319.5px;top:1114.33px;width:57px;height:20.42px"><span class="s">31.8</span></div><div class="c l" style="left:376.5px;top:1114.33px;width:136.5px;height:20.42px"><span class="s">4-M12<span class="x"></span>15</span></div><div class="c" style="left:513px;top:1114.33px;width:54.6px;height:20.42px"><span class="s">8</span></div><div class="c" style="left:567.6px;top:1114.33px;width:47.9px;height:20.42px"><span class="s">35.5</span></div><div class="c" style="left:319.5px;top:1134.75px;width:57px;height:20.42px"><span class="s">32</span></div><div class="c l" style="left:376.5px;top:1134.75px;width:136.5px;height:20.42px"><span class="s">4-M12<span class="x"></span>15</span></div><div class="c" style="left:513px;top:1134.75px;width:54.6px;height:20.42px"><span class="s">8</span></div><div class="c" style="left:567.6px;top:1134.75px;width:47.9px;height:20.42px"><span class="s">35.3</span></div><div class="c" style="left:319.5px;top:1155.17px;width:57px;height:20.42px"><span class="s">33.34</span></div><div class="c l" style="left:376.5px;top:1155.17px;width:136.5px;height:20.42px"><span class="s">4-M18<span class="x"></span>25</span></div><div class="c" style="left:513px;top:1155.17px;width:54.6px;height:20.42px"><span class="s">10</span></div><div class="c" style="left:567.6px;top:1155.17px;width:47.9px;height:20.42px"><span class="s">36.6</span></div><div class="c" style="left:319.5px;top:1175.59px;width:57px;height:20.42px"><span class="s">31.8</span></div><div class="c l" style="left:376.5px;top:1175.59px;width:136.5px;height:20.42px"><span class="s">4-M12<span class="x"></span>15</span></div><div class="c" style="left:513px;top:1175.59px;width:54.6px;height:20.42px"><span class="s">8</span></div><div class="c" style="left:567.6px;top:1175.59px;width:47.9px;height:20.42px"><span class="s">35.5</span></div><div class="c" style="left:319.5px;top:1196.01px;width:57px;height:20.42px"><span class="s">32</span></div><div class="c l" style="left:376.5px;top:1196.01px;width:136.5px;height:20.42px"><span class="s">4-M12<span class="x"></span>15</span></div><div class="c" style="left:513px;top:1196.01px;width:54.6px;height:20.42px"><span class="s">8</span></div><div class="c" style="left:567.6px;top:1196.01px;width:47.9px;height:20.42px"><span class="s">35.3</span></div><div class="c" style="left:319.5px;top:1216.43px;width:57px;height:20.42px"><span class="s">33.34</span></div><div class="c l" style="left:376.5px;top:1216.43px;width:136.5px;height:20.42px"><span class="s">4-M18<span class="x"></span>25</span></div><div class="c" style="left:513px;top:1216.43px;width:54.6px;height:20.42px"><span class="s">10</span></div><div class="c" style="left:567.6px;top:1216.43px;width:47.9px;height:20.42px"><span class="s">36.6</span></div><div class="c" style="left:319.5px;top:1236.85px;width:57px;height:20.42px"><span class="s">38</span></div><div class="c l" style="left:376.5px;top:1236.85px;width:136.5px;height:20.42px"><span class="s">4-M18<span class="x"></span>25</span></div><div class="c" style="left:513px;top:1236.85px;width:54.6px;height:20.42px"><span class="s">10</span></div><div class="c" style="left:567.6px;top:1236.85px;width:47.9px;height:20.42px"><span class="s">41.3</span></div><div class="c" style="left:319.5px;top:1257.27px;width:57px;height:20.42px"><span class="s">41.15</span></div><div class="c l" style="left:376.5px;top:1257.27px;width:136.5px;height:20.42px"><span class="s">4-M18<span class="x"></span>25</span></div><div class="c" style="left:513px;top:1257.27px;width:54.6px;height:20.42px"><span class="s">10</span></div><div class="c" style="left:567.6px;top:1257.27px;width:47.9px;height:20.42px"><span class="s">44.5</span></div><div class="c" style="left:319.5px;top:1277.69px;width:57px;height:20.42px"><span class="s">33.34</span></div><div class="c l" style="left:376.5px;top:1277.69px;width:136.5px;height:20.42px"><span class="s">4-M18<span class="x"></span>25</span></div><div class="c" style="left:513px;top:1277.69px;width:54.6px;height:20.42px"><span class="s">10</span></div><div class="c" style="left:567.6px;top:1277.69px;width:47.9px;height:20.42px"><span class="s">36.6</span></div><div class="c" style="left:319.5px;top:1298.11px;width:57px;height:20.42px"><span class="s">41.15</span></div><div class="c l" style="left:376.5px;top:1298.11px;width:136.5px;height:20.42px"><span class="s">4-M18<span class="x"></span>25</span></div><div class="c" style="left:513px;top:1298.11px;width:54.6px;height:20.42px"><span class="s">10</span></div><div class="c" style="left:567.6px;top:1298.11px;width:47.9px;height:20.42px"><span class="s">44.5</span></div><div class="c" style="left:319.5px;top:1318.53px;width:57px;height:20.42px"><span class="s">50</span></div><div class="c l" style="left:376.5px;top:1318.53px;width:136.5px;height:20.42px"><span class="s">4-M16<span class="x"></span>25</span></div><div class="c" style="left:513px;top:1318.53px;width:54.6px;height:20.42px"><span class="s">14</span></div><div class="c" style="left:567.6px;top:1318.53px;width:47.9px;height:20.42px"><span class="s">54</span></div><div class="c" style="left:319.5px;top:1338.95px;width:57px;height:20.42px"><span class="s">52</span></div><div class="c l" style="left:376.5px;top:1338.95px;width:136.5px;height:20.42px"><span class="s">8-M16<span class="x"></span>25</span></div><div class="c" style="left:513px;top:1338.95px;width:54.6px;height:20.42px"><span class="s">16</span></div><div class="c" style="left:567.6px;top:1338.95px;width:47.9px;height:20.42px"><span class="s">56</span></div><div class="c" style="left:319.5px;top:1359.37px;width:57px;height:20.42px"><span class="s">55</span></div><div class="c l" style="left:376.5px;top:1359.37px;width:136.5px;height:20.42px"><span class="s">8-M16<span class="x"></span>25</span></div><div class="c" style="left:513px;top:1359.37px;width:54.6px;height:20.42px"><span class="s">16<span class="x"></span>2</span></div><div class="c" style="left:567.6px;top:1359.37px;width:47.9px;height:20.42px"><span class="s">63</span></div><div class="c" style="left:319.5px;top:1379.79px;width:57px;height:20.42px"><span class="s">50.65</span></div><div class="c l" style="left:376.5px;top:1379.79px;width:136.5px;height:20.42px"><span class="s">4-M20<span class="x"></span>25</span></div><div class="c" style="left:513px;top:1379.79px;width:54.6px;height:20.42px"><span class="s">16<span class="x"></span>2</span></div><div class="c" style="left:567.6px;top:1379.79px;width:47.9px;height:20.42px"><span class="s">58.65</span></div><div class="c" style="left:319.5px;top:1400.21px;width:57px;height:20.42px"><span class="s">52</span></div><div class="c l" style="left:376.5px;top:1400.21px;width:136.5px;height:20.42px"><span class="s">8-M16<span class="x"></span>25</span></div><div class="c" style="left:513px;top:1400.21px;width:54.6px;height:20.42px"><span class="s">16<span class="x"></span>2</span></div><div class="c" style="left:567.6px;top:1400.21px;width:47.9px;height:20.42px"><span class="s">56</span></div><div class="c" style="left:319.5px;top:1420.63px;width:57px;height:20.42px"><span class="s">55</span></div><div class="c l" style="left:376.5px;top:1420.63px;width:136.5px;height:20.42px"><span class="s">8-M16<span class="x"></span>25</span></div><div class="c" style="left:513px;top:1420.63px;width:54.6px;height:20.42px"><span class="s">16<span class="x"></span>2</span></div><div class="c" style="left:567.6px;top:1420.63px;width:47.9px;height:20.42px"><span class="s">63</span></div><div class="c" style="left:319.5px;top:1441.05px;width:57px;height:20.42px"><span class="s">50.65</span></div><div class="c l" style="left:376.5px;top:1441.05px;width:136.5px;height:20.42px"><span class="s">4-M20<span class="x"></span>25</span></div><div class="c" style="left:513px;top:1441.05px;width:54.6px;height:20.42px"><span class="s">16<span class="x"></span>2</span></div><div class="c" style="left:567.6px;top:1441.05px;width:47.9px;height:20.42px"><span class="s">58.65</span></div><div class="c" style="left:319.5px;top:1461.47px;width:57px;height:20.42px"><span class="s">52</span></div><div class="c l" style="left:376.5px;top:1461.47px;width:136.5px;height:20.42px"><span class="s">8-M16<span class="x"></span>25</span></div><div class="c" style="left:513px;top:1461.47px;width:54.6px;height:20.42px"><span class="s">16<span class="x"></span>2</span></div><div class="c" style="left:567.6px;top:1461.47px;width:47.9px;height:20.42px"><span class="s">56</span></div><div class="c" style="left:319.5px;top:1481.89px;width:57px;height:20.42px"><span class="s">55</span></div><div class="c l" style="left:376.5px;top:1481.89px;width:136.5px;height:20.42px"><span class="s">8-M16<span class="x"></span>25</span></div><div class="c" style="left:513px;top:1481.89px;width:54.6px;height:20.42px"><span class="s">16<span class="x"></span>2</span></div><div class="c" style="left:567.6px;top:1481.89px;width:47.9px;height:20.42px"><span class="s">63</span></div><div class="c" style="left:319.5px;top:1502.31px;width:57px;height:20.42px"><span class="s">52</span></div><div class="c l" style="left:376.5px;top:1502.31px;width:136.5px;height:20.42px"><span class="s">8-M16<span class="x"></span>25</span></div><div class="c" style="left:513px;top:1502.31px;width:54.6px;height:20.42px"><span class="s">16<span class="x"></span>2</span></div><div class="c" style="left:567.6px;top:1502.31px;width:47.9px;height:20.42px"><span class="s">60</span></div><div class="c" style="left:319.5px;top:1522.73px;width:57px;height:20.42px"><span class="s">55</span></div><div class="c l" style="left:376.5px;top:1522.73px;width:136.5px;height:20.42px"><span class="s">8-M16<span class="x"></span>25</span></div><div class="c" style="left:513px;top:1522.73px;width:54.6px;height:20.42px"><span class="s">16<span class="x"></span>2</span></div><div class="c" style="left:567.6px;top:1522.73px;width:47.9px;height:20.42px"><span class="s">63</span></div><div class="c" style="left:319.5px;top:1543.15px;width:57px;height:20.42px"><span class="s">55</span></div><div class="c l" style="left:376.5px;top:1543.15px;width:136.5px;height:20.42px"><span class="s">8-M16<span class="x"></span>25</span></div><div class="c" style="left:513px;top:1543.15px;width:54.6px;height:20.42px"><span class="s">16<span class="x"></span>2</span></div><div class="c" style="left:567.6px;top:1543.15px;width:47.9px;height:20.42px"><span class="s">63</span></div><div class="c" style="left:319.5px;top:1563.57px;width:57px;height:20.42px"><span class="s">75</span></div><div class="c l" style="left:376.5px;top:1563.57px;width:136.5px;height:20.42px"><span class="s">8-M16<span class="x"></span>25</span></div><div class="c" style="left:513px;top:1563.57px;width:54.6px;height:20.42px"><span class="s">20<span class="x"></span>2</span></div><div class="c" style="left:567.6px;top:1563.57px;width:47.9px;height:20.42px"><span class="s">84</span></div><div class="c" style="left:319.5px;top:1583.99px;width:57px;height:20.42px"><span class="s">85</span></div><div class="c l" style="left:376.5px;top:1583.99px;width:136.5px;height:20.42px"><span class="s">8-M16<span class="x"></span>25</span></div><div class="c" style="left:513px;top:1583.99px;width:54.6px;height:20.42px"><span class="s">22<span class="x"></span>2</span></div><div class="c" style="left:567.6px;top:1583.99px;width:47.9px;height:20.42px"><span class="s">95</span></div><div class="c" style="left:615.5px;top:726.35px;width:45.6px;height:81.68px"><span class="s">35</span></div><div class="c" style="left:661.1px;top:726.35px;width:68.4px;height:81.68px"><span class="s">G1/8<span class="in">″</span></span></div><div class="c" style="left:729.5px;top:726.35px;width:45.7px;height:81.68px"><span class="s">6.5</span></div><div class="c" style="left:615.5px;top:808.03px;width:45.6px;height:102.1px"><span class="s">40</span></div><div class="c" style="left:661.1px;top:808.03px;width:68.4px;height:102.1px"><span class="s">G1/8<span class="in">″</span></span></div><div class="c" style="left:729.5px;top:808.03px;width:45.7px;height:102.1px"><span class="s">11</span></div><div class="c" style="left:615.5px;top:910.13px;width:45.6px;height:102.1px"><span class="s">55</span></div><div class="c" style="left:661.1px;top:910.13px;width:68.4px;height:102.1px"><span class="s">G1/4<span class="in">″</span></span></div><div class="c" style="left:729.5px;top:910.13px;width:45.7px;height:102.1px"><span class="s">15</span></div><div class="c" style="left:615.5px;top:1012.23px;width:45.6px;height:102.1px"><span class="s">55</span></div><div class="c" style="left:661.1px;top:1012.23px;width:68.4px;height:102.1px"><span class="s">G1/4<span class="in">″</span></span></div><div class="c" style="left:729.5px;top:1012.23px;width:45.7px;height:102.1px"><span class="s">21</span></div><div class="c" style="left:615.5px;top:1114.33px;width:45.6px;height:61.26px"><span class="s">80</span></div><div class="c" style="left:661.1px;top:1114.33px;width:68.4px;height:61.26px"><span class="s">G1/4<span class="in">″</span></span></div><div class="c" style="left:729.5px;top:1114.33px;width:45.7px;height:61.26px"><span class="s">28</span></div><div class="c" style="left:615.5px;top:1175.59px;width:45.6px;height:102.1px"><span class="s">80</span></div><div class="c" style="left:661.1px;top:1175.59px;width:68.4px;height:102.1px"><span class="s">G1/4<span class="in">″</span></span></div><div class="c" style="left:729.5px;top:1175.59px;width:45.7px;height:102.1px"><span class="s">45</span></div><div class="c" style="left:615.5px;top:1277.69px;width:45.6px;height:102.1px"><span class="s">80</span></div><div class="c" style="left:661.1px;top:1277.69px;width:68.4px;height:102.1px"><span class="s">G1/4<span class="in">″</span></span></div><div class="c" style="left:729.5px;top:1277.69px;width:45.7px;height:102.1px"><span class="s">60</span></div><div class="c" style="left:615.5px;top:1379.79px;width:45.6px;height:61.26px"><span class="s">80</span></div><div class="c" style="left:661.1px;top:1379.79px;width:68.4px;height:61.26px"><span class="s">G1/4<span class="in">″</span></span></div><div class="c" style="left:729.5px;top:1379.79px;width:45.7px;height:61.26px"><span class="s">70</span></div><div class="c" style="left:615.5px;top:1441.05px;width:45.6px;height:61.26px"><span class="s">80</span></div><div class="c" style="left:661.1px;top:1441.05px;width:68.4px;height:61.26px"><span class="s">G1/4<span class="in">″</span></span></div><div class="c" style="left:729.5px;top:1441.05px;width:45.7px;height:61.26px"><span class="s">85</span></div><div class="c" style="left:615.5px;top:1502.31px;width:45.6px;height:40.84px"><span class="s">80</span></div><div class="c" style="left:615.5px;top:1543.15px;width:45.6px;height:20.42px"><span class="s">80</span></div><div class="c" style="left:615.5px;top:1563.57px;width:45.6px;height:20.42px"><span class="s">118</span></div><div class="c" style="left:615.5px;top:1583.99px;width:45.6px;height:20.42px"><span class="s">142</span></div><div class="c" style="left:661.1px;top:1502.31px;width:68.4px;height:102.1px"><span class="s">G1/4<span class="in">″</span></span></div><div class="c" style="left:729.5px;top:1502.31px;width:45.7px;height:40.84px"><span class="s">100</span></div><div class="c" style="left:729.5px;top:1543.15px;width:45.7px;height:61.26px"><span class="s">115</span></div>
</div></body></html>
